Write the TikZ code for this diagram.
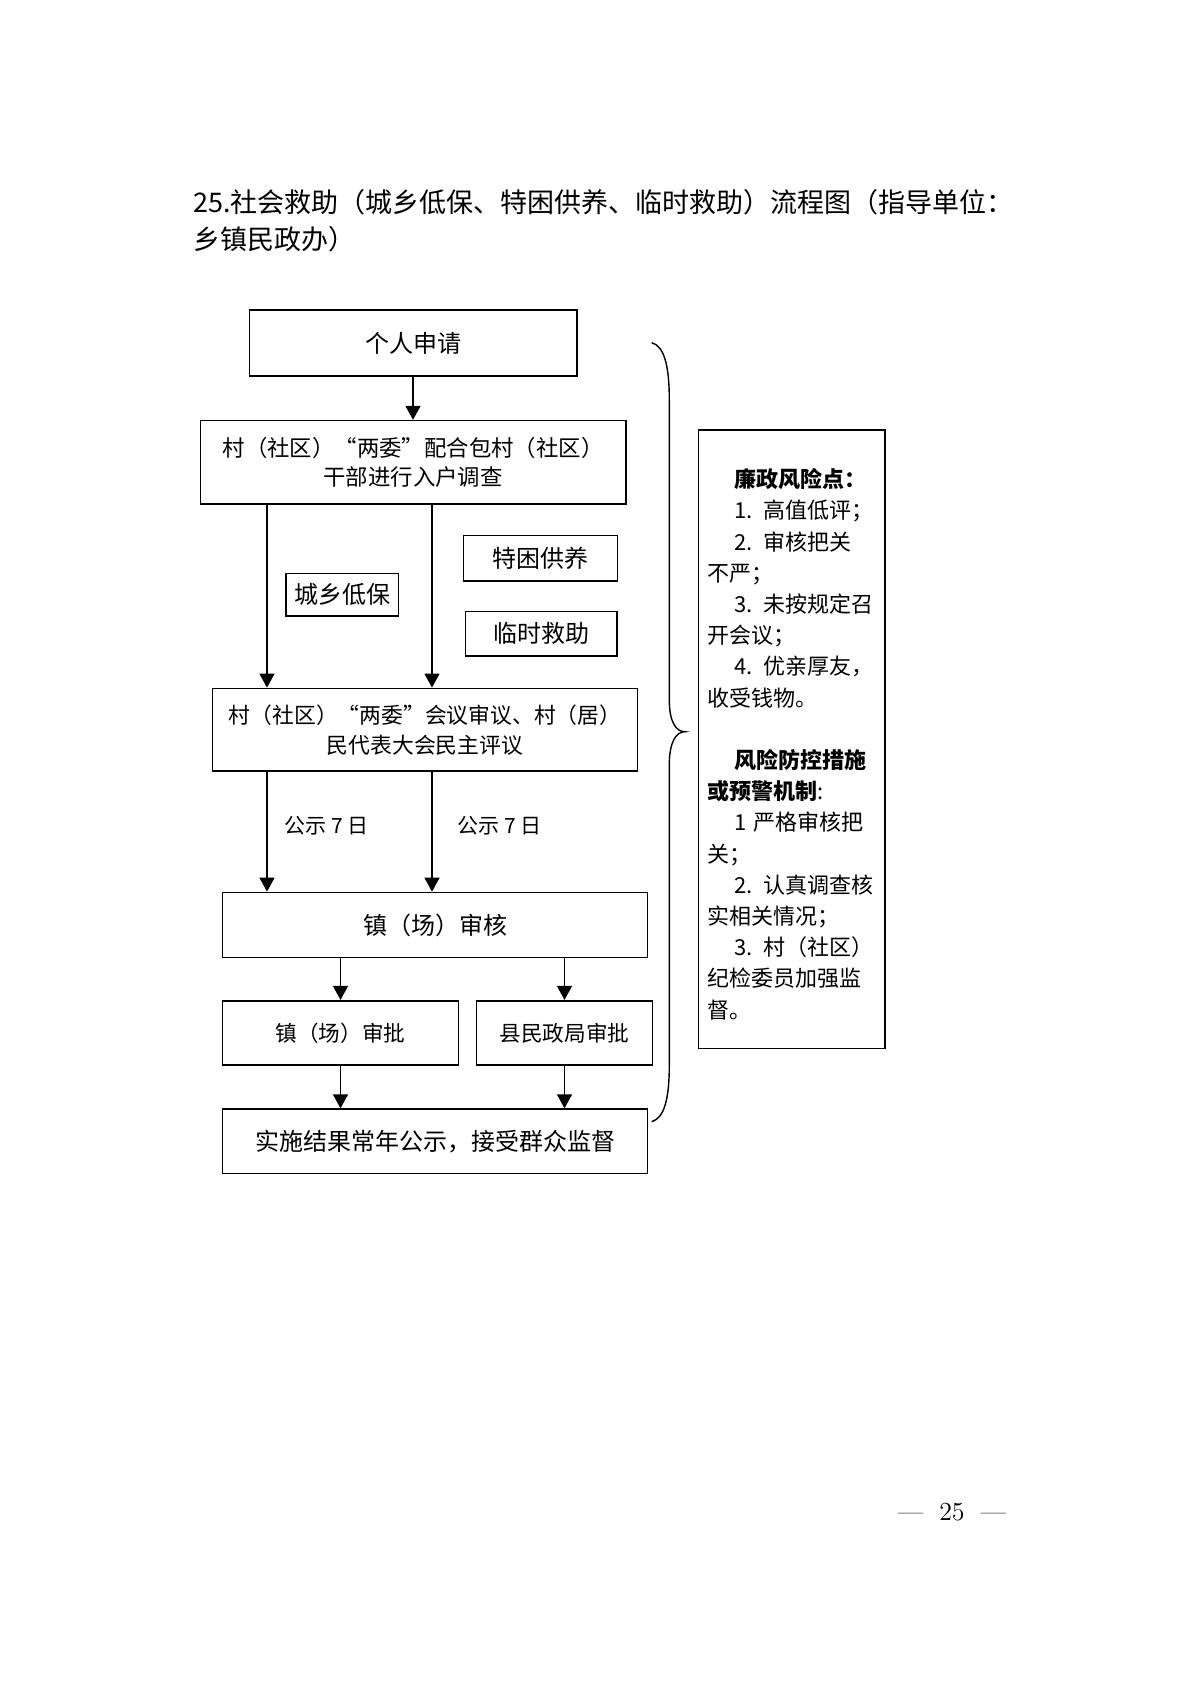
\documentclass[tikz,border=0pt]{standalone}
\usepackage{fontspec}
\newfontfamily\cjk{Noto Sans CJK SC}
\usepackage{tikz}
\usetikzlibrary{positioning,arrows.meta}
\newcommand{\firstind}{\hspace*{1.2em}}

\begin{document}
\begin{tikzpicture}[
        x=0.5pt, y=-0.5pt,
        node distance = 59.7pt,
        block/.style = {rectangle, draw, line width=0.8pt, align=center, inner sep=0pt, font=\cjk\fontsize{12}{14.5}\selectfont},
        tag/.style = {rectangle, draw, line width=0.8pt, inner sep=0pt, font=\cjk\fontsize{12}{14}\selectfont},
        note/.style = {rectangle, draw, line width=0.8pt, align=left, inner xsep=4.5pt, font=\cjk\fontsize{11}{15.6}\selectfont},
        line/.style = {draw, line width=0.8pt, -{Triangle[width=7.5pt,length=7pt]}}
    ]
    \useasboundingbox (0,0) rectangle (1190,1683);

    \node [anchor=base west, align=left, font=\cjk\fontsize{13.5}{18.25}\selectfont] (title) at (186,249) {25.社会救助（城乡低保、特困供养、临时救助）流程图（指导单位：\\乡镇民政办）};

    \node [block, minimum width=163.7pt, minimum height=32.8pt] (apply) at (413,342.9) {个人申请};
    \node [block, below of=apply, minimum width=212.7pt, minimum height=41.7pt, font=\cjk\fontsize{11.2}{14.5}\selectfont] (survey) {村（社区）“两委”配合包村（社区）\\干部进行入户调查};
    \node [block, below of=survey, node distance=133.7pt, xshift=6pt, minimum width=212.5pt, minimum height=41.3pt, font=\cjk\fontsize{10.9}{15}\selectfont] (review) {村（社区）“两委”会议审议、村（居）\\民代表大会民主评议};
    \node [block, below of=review, node distance=97.6pt, xshift=5pt, minimum width=212.5pt, minimum height=32.5pt] (townchk) {镇（场）审核};
    \node [block, below of=townchk, node distance=54pt, xshift=-47.25pt, minimum width=118pt, minimum height=32.2pt, font=\cjk\fontsize{10.8}{12}\selectfont] (townok) {镇（场）审批};
    \node [block, right of=townok, node distance=112pt, minimum width=88pt, minimum height=32.2pt, font=\cjk\fontsize{10.8}{12}\selectfont] (countyok) {县民政局审批};
    \node [block, below of=townchk, node distance=108.2pt, minimum width=212.5pt, minimum height=32.2pt] (publish) {实施结果常年公示，接受群众监督};

    \node [tag, minimum width=56.3pt, minimum height=21.3pt] (dibao) at (342.3,594.7) {城乡低保};
    \node [tag, minimum width=77pt, minimum height=22.7pt] (tekun) at (540.3,558) {特困供养};
    \node [tag, minimum width=75.7pt, minimum height=22.3pt] (linshi) at (541,633.7) {临时救助};

    \node [note, minimum width=93.3pt, minimum height=309.2pt, text width=84pt] (risk) at (791.7,739.2) {%
        {\bfseries\firstind\rule{0pt}{14.5pt}廉政风险点：}\\
        \firstind 1. 高值低评；\\
        \firstind 2. 审核把关\\
        不严；\\
        \firstind 3. 未按规定召\\
        开会议；\\
        \firstind 4. 优亲厚友，\\
        收受钱物。\\
        \mbox{}\\
        {\bfseries\firstind 风险防控措施}\\
        {\bfseries 或预警机制}:\\
        \firstind 1 严格审核把\\
        关；\\
        \firstind 2. 认真调查核\\
        实相关情况；\\
        \firstind 3. 村（社区）\\
        纪检委员加强监\\
        督。};

    \path [line] (apply) -- (survey);
    \path [line] ([xshift=-73pt]survey.south) -- ([xshift=-73pt]survey.south |- review.north);
    \path [line] ([xshift=9.5pt]survey.south) -- ([xshift=9.5pt]survey.south |- review.north);
    \path [line] ([xshift=-73pt]survey.south |- review.south) -- node [pos=0.45, right=5pt, font=\cjk\fontsize{10.5}{12}\selectfont] (pub1) {公示 7 日} ([xshift=-73pt]survey.south |- townchk.north);
    \path [line] ([xshift=9.5pt]survey.south |- review.south) -- node [pos=0.45, right=9pt, font=\cjk\fontsize{10.5}{12}\selectfont] (pub2) {公示 7 日} ([xshift=9.5pt]survey.south |- townchk.north);
    \path [line] (townchk.south -| townok) -- (townok);
    \path [line] (townchk.south -| countyok) -- (countyok);
    \path [line] (townok) -- (townok |- publish.north);
    \path [line] (countyok) -- (countyok |- publish.north);

    \draw [line width=0.7pt] (651.7,342.7) .. controls (664,346) and (669.3,365) .. (669.3,400) -- (669.3,700) .. controls (669.3,722) and (676,731.7) .. (685,731.7) .. controls (676,731.7) and (669.3,742) .. (669.3,765) -- (669.3,1065) .. controls (669.3,1100) and (664,1118) .. (651.7,1121.7);

    \node [font=\fontsize{13}{15}\selectfont] (page) at (952,1512) {—\hspace{8pt}25\hspace{8pt}—};

\end{tikzpicture}
\end{document}
